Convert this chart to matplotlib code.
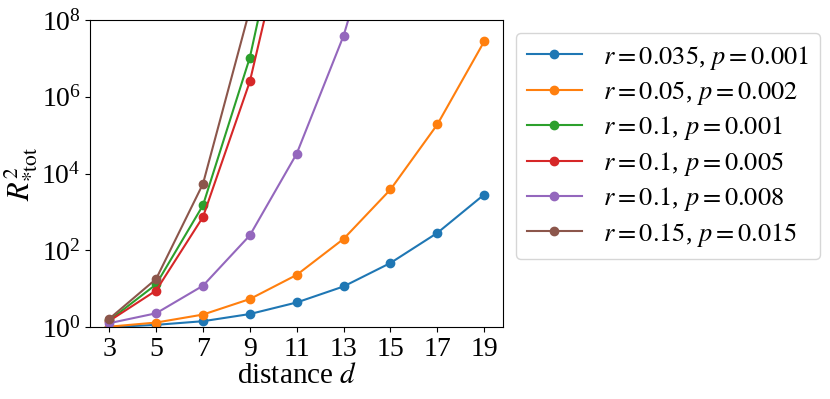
import matplotlib
matplotlib.use("Agg")
import matplotlib.pyplot as plt
import numpy as np

plt.rcParams['font.family'] = ['Liberation Serif', 'DejaVu Serif']
plt.rcParams['mathtext.fontset'] = 'stix'
plt.rcParams['font.size'] = 20

# distances
d = [3, 5, 7, 9, 11, 13, 15, 17, 19]

# R^2 values per (r, p) setting
r035_p001 = [1.0, 1.15, 1.43, 2.2, 4.4, 11.5, 47, 285, 2850]
r05_p002 = [1.03, 1.32, 2.13, 5.4, 23, 199, 3850, 1.9e5, 2.77e7]
r1_p001 = [1.5, 13, 1490, 1.05e7, 4e12]
r1_p005 = [1.45, 9, 740, 2.5e6, 4e11]
r1_p008 = [1.27, 2.3, 12, 246, 3.3e4, 3.9e7, 5e11]
r15_p015 = [1.65, 18, 5400, 1.9e8]

labels = [r'$r=0.035$, $p=0.001$', r'$r=0.05$, $p=0.002$', r'$r=0.1$, $p=0.001$',
          r'$r=0.1$, $p=0.005$', r'$r=0.1$, $p=0.008$', r'$r=0.15$, $p=0.015$']
series = [r035_p001, r05_p002, r1_p001, r1_p005, r1_p008, r15_p015]

fig, ax = plt.subplots(figsize=(8.3, 3.99), dpi=100)
fig.subplots_adjust(left=0.109, right=0.606, top=0.95, bottom=0.18)

for vals, lab in zip(series, labels):
    ax.plot(d[:len(vals)], vals, marker='o', markersize=6, label=lab)

ax.set_yscale('log')
ax.set_ylim(1, 1e8)
ax.set_xlim(2.2, 19.8)
ax.set_xticks(d)
ax.set_yticks([1, 1e2, 1e4, 1e6, 1e8])
ax.minorticks_off()
ax.tick_params(labelsize=20)
ax.set_xlabel(r'distance $d$', fontsize=21, labelpad=1)
ax.set_ylabel(r'$R^2_{*\mathrm{tot}}$', fontsize=22, labelpad=1)
ax.legend(loc='upper left', bbox_to_anchor=(1, 1), fontsize=19,
          labelspacing=0.28, handlelength=2.1)

plt.savefig('out.png')
